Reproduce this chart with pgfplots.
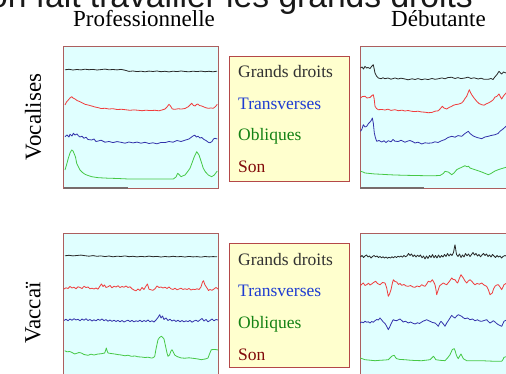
\documentclass[border=0pt]{standalone}
\usepackage{pgfplots}
\pgfplotsset{compat=1.18}
\usepackage{fontspec}
\setmainfont{Liberation Serif}
\newfontfamily\sansf{Liberation Sans}
\definecolor{cyanbg}{RGB}{224,255,255}
\definecolor{legbg}{RGB}{255,255,206}
\definecolor{bordc}{RGB}{172,95,95}
\definecolor{legbord}{RGB}{180,72,72}
\definecolor{tk}{RGB}{40,40,40}
\definecolor{tr}{RGB}{240,60,60}
\definecolor{tb}{RGB}{50,50,170}
\definecolor{tg}{RGB}{70,200,70}
\definecolor{scalec}{RGB}{120,108,108}
\definecolor{lk}{RGB}{50,50,50}
\definecolor{lb}{RGB}{30,60,210}
\definecolor{lg}{RGB}{20,130,20}
\definecolor{lr}{RGB}{130,10,10}
\pgfplotsset{panel/.style={scale only axis, width=155pt, height=142pt,
  xmin=0, xmax=155, ymin=0, ymax=142, y dir=reverse, ticks=none,
  axis background/.style={fill=cyanbg},
  axis line style={draw=bordc, line width=1pt},
  every axis plot/.append style={line width=0.8pt, mark=none, line join=round}}}
\begin{document}
\begin{tikzpicture}[x=1pt,y=1pt]
\useasboundingbox (0,0) rectangle (506,374);
\clip (0,0) rectangle (506,374);
\fill[white] (0,0) rectangle (506,374);
\node[anchor=base east, inner sep=0pt, text=black!90] at (473,366) {\sansf\fontsize{33.6}{40}\selectfont on fait travailler les grands droits};
\node[anchor=base, inner sep=0pt] at (144,347) {\fontsize{23}{27}\selectfont Professionnelle};
\node[anchor=base, inner sep=0pt] at (438.5,347) {\fontsize{23}{27}\selectfont Débutante};
\node[rotate=90, inner sep=0pt] at (33,257) {\fontsize{23}{27}\selectfont Vocalises};
\node[rotate=90, inner sep=0pt] at (33,61) {\fontsize{23}{27}\selectfont Vaccaï};
% legend boxes
\draw[fill=legbg, draw=legbord, line width=1pt] (229,192) rectangle (349,317);
\draw[fill=legbg, draw=legbord, line width=1pt] (229,6) rectangle (349,130);
\begin{scope}[every node/.style={anchor=base west, inner sep=0pt, font=\fontsize{17.5}{20}\selectfont}]
\node[text=lk] at (238,296) {Grands droits};
\node[text=lb] at (238,264) {Transverses};
\node[text=lg] at (238,233) {Obliques};
\node[text=lr] at (238,201) {Son};
\node[text=lk] at (238,108) {Grands droits};
\node[text=lb] at (238,77) {Transverses};
\node[text=lg] at (238,45) {Obliques};
\node[text=lr] at (238,13) {Son};
\end{scope}
% ---------- top left: Professionnelle / Vocalises
\begin{axis}[panel, at={(63pt,185pt)}, anchor=south west]
\addplot[tk] coordinates {(2,22.8)(6,22.3)(10,23.0)(14,22.5)(18,22.9)(22,22.2)(26,22.7)(30,22.4)(34,23.0)(38,22.6)(42,22.1)(46,22.8)(50,22.5)(54,22.9)(58,22.4)(62,23.2)(66,24.4)(70,24.0)(74,24.6)(78,24.2)(82,24.8)(86,24.1)(90,24.5)(94,24.0)(98,24.7)(102,24.3)(106,24.9)(110,24.2)(114,24.6)(118,24.0)(122,24.5)(126,24.8)(130,24.2)(134,24.6)(138,24.1)(142,24.7)(146,24.3)(150,24.8)(154,24.2)};
\addplot[tr] coordinates {(2,58)(3.5,55)(5.3,53)(7,51)(8.7,49.7)(10,51)(12,52)(14,53.5)(17,54.7)(19.5,56)(22,57.3)(25,58)(28.7,59)(32,60)(35.3,60.7)(38,61.5)(42,61.3)(46,62)(50,61.7)(54,62.5)(58.7,62.3)(63,62.8)(67,63.3)(71,62.9)(75.3,63.3)(79,63.7)(83,63.2)(87,63.6)(92,63.3)(96,63.8)(99,63.0)(102,62)(104,60)(106,57.3)(107.5,59)(109.3,62)(112,62.3)(115,61.8)(118.7,62)(122,61.5)(125.3,59.7)(127,58)(128.7,56.3)(130.5,58.5)(132,59)(133.5,57.5)(134.7,57)(136.5,58.5)(138.7,59)(141,60)(143,60.8)(145.3,61.3)(148,61)(150.3,61.3)(152.5,59.5)(154.3,57.3)};
\addplot[tb] coordinates {(2,89.7)(4,88)(6,90)(7,87.3)(9,89)(10.3,86.3)(12,88)(14,87)(15.3,88.7)(17,90)(19,89.2)(21,91.3)(23,90.2)(25,92.5)(28.7,93)(31,92)(33,94.5)(35.3,94)(38,93.2)(42,95.2)(46,94.5)(50,95.6)(54,94.6)(58,95.3)(62,96.2)(66,95)(70,95.9)(74,95.1)(78,96.2)(82,95.3)(86,96.5)(90,95.8)(94,96.8)(98,95.5)(102,95.6)(106,94.5)(110,95.2)(114,93.5)(118,94.5)(122,93.2)(126,92)(128,90.5)(130,89)(131.7,88.2)(133.5,90)(135,89.2)(137,91)(138.7,90.5)(141,92.5)(143,93.5)(145.3,95.3)(147,95.8)(149,94.5)(150.5,92)(152,91.3)(154.3,92)};
\addplot[tg] coordinates {(2,123)(3.5,118)(5.3,111.3)(7,106)(8.7,103)(10,104)(11,106.3)(12.5,110)(13.7,116.3)(15.5,120)(17,123)(19.5,125.5)(22,127.3)(25,128.5)(28.7,129.7)(35.3,130.7)(45,131.2)(55,131.5)(65.3,132)(80,132)(95,132)(110.3,132)(113,130)(114.7,126.3)(116.5,128)(118,129.7)(120,128.8)(122,128)(124,125.5)(127,121.3)(129,116)(131.3,109.7)(133.7,104.7)(136,108)(138,114)(140.3,121.3)(142.5,125)(145.3,128)(148.7,129.7)(151.3,128)(154.3,124)};
\addplot[scalec, line width=2pt] coordinates {(1,141)(65,141)};
\end{axis}
% ---------- top right: Débutante / Vocalises
\begin{axis}[panel, at={(360pt,185pt)}, anchor=south west]
\addplot[tk] coordinates {(0.5,21)(2,20)(3.5,22)(5,19.3)(6.5,21)(8,20.5)(10,21.5)(11.5,19.5)(13.3,17.7)(14.2,22)(15,26)(16.5,29)(18.3,31)(21,31.7)(23,30.8)(25,31.7)(28,31)(31,32.2)(35,31)(38,32)(41,31.2)(45,32)(48,32.8)(52,31.8)(55,32.5)(58,31.6)(61.7,32.7)(65,31.9)(68,32.6)(72,31.5)(75,32.3)(78.3,31.8)(82,30.9)(85,31.8)(88,30.5)(91.7,30.3)(95,31.5)(98,30.6)(101,31.6)(105,31)(108,30.2)(111,31.5)(114,30.8)(118.3,32)(121,31.2)(124,32.3)(128.3,32.3)(131,31.5)(133,32.5)(135,29.8)(137,27.5)(139,24.3)(140.5,26)(141.7,27)(143.5,25)(146,26)(149,24.5)(152,25.5)(155,24.8)};
\addplot[tr] coordinates {(0.5,51)(2.5,49.5)(5,49.3)(7,51)(10,50.5)(12,48.5)(13.3,47.7)(14.2,52)(15,59.3)(16.5,61.5)(18.3,62.7)(22,62.5)(25,63)(28,62.2)(31,63.4)(35,62.7)(38.3,63.7)(42,63.2)(45,64)(48,63.5)(51.7,64.3)(55,64.6)(58,64.2)(61.7,65)(65,65.2)(68,65.7)(71.7,65.5)(75,64.2)(78.3,63.8)(80,62)(82.3,59.3)(84,61)(86.7,62)(89,60.5)(91.7,59.3)(93.3,58.3)(96,57.5)(98,57.3)(101.7,56)(103.5,54)(105,51.5)(106.7,49.3)(108,46)(109.3,42.7)(110.5,45.5)(111.7,47.7)(114,51)(116.7,54.3)(119,56.5)(121.7,57.7)(124,58.2)(126,57)(128.3,56)(131,54.5)(133.3,52.7)(135,50)(136.7,49.5)(139,47)(140.5,50)(141.7,52)(143.5,49)(146,46)(149,47.5)(152,45.5)(155,46.5)};
\addplot[tb] coordinates {(0.5,84.3)(2,82)(3.3,77.7)(5,80)(6.7,79.3)(8.5,76.5)(10,75)(11.5,73)(12.3,71)(13.3,76)(14.3,86)(15.5,91)(16.7,94.3)(19,93.5)(21.7,95)(24,93.8)(26,95.5)(28.3,93.7)(31,94.8)(33,92.5)(35,94.2)(38.3,94.5)(41,93.3)(45,95.2)(48,94)(50,93.5)(53,94.8)(55,96)(58,95.2)(61.7,97)(65,95.8)(68,96.2)(71.7,96)(75,94.8)(78,95.5)(81.7,93.7)(85,92.5)(88,90.5)(91.7,89.3)(95,90.2)(98,88.6)(101.7,89.3)(105,86.5)(108.3,84.3)(110,86.5)(113.3,89)(117,90.5)(121.7,91.7)(125,90)(128.3,89.3)(131,88.5)(135,87.7)(138,86.5)(140,84.3)(143,82)(146,79.3)(149,80.5)(152,78.5)(155,79.5)};
\addplot[tg] coordinates {(0.5,124.3)(3,125)(5,126)(10,126.5)(15,127)(20,127.2)(28.3,127.7)(35,128)(45,128.3)(55,128.5)(65,128.7)(75,128.7)(80,128.5)(83.3,126.5)(85,124.3)(87,124.8)(88.3,125)(91.7,127.7)(94,126)(96.7,122.7)(99,121.5)(101.7,120.3)(105,118.7)(107,119.8)(108.5,119.2)(110,121)(115,122.7)(121.7,125)(128.3,127.7)(131,126.5)(133.3,125)(135,124)(138.3,122.7)(142,121.5)(146,120.3)(150,119.5)(155,119)};
\addplot[scalec, line width=2pt] coordinates {(0,141)(64,141)};
\end{axis}
% ---------- bottom left: Professionnelle / Vaccai
\begin{axis}[panel, at={(63pt,140pt)}, anchor=north west]
\addplot[tk] coordinates {(2,21.8)(6,21.3)(10,21.9)(14,21.5)(18,21.1)(22,21.7)(26,22.2)(30,21.6)(34,22.3)(38,21.9)(42,22.6)(46,22.0)(50,22.8)(54,22.2)(58,22.5)(62,21.9)(66,22.7)(70,22.3)(74,22.9)(78,22.4)(82,22.8)(86,22.1)(90,22.7)(94,22.4)(98,23.0)(102,22.5)(106,22.9)(110,22.3)(114,22.8)(118,22.5)(122,23.0)(126,22.4)(130,22.9)(134,22.6)(138,23.1)(142,22.5)(146,22.9)(150,22.6)(154,22.8)};
\addplot[tr] coordinates {(1,55)(3,53.8)(5,54.5)(7,52.5)(9,54)(11,53.2)(13,54.8)(15,52.8)(17,53.5)(19,54.5)(21,52.3)(23,53.5)(25,53)(27,54.8)(29,54.2)(31,55)(33,54)(35,55.2)(37,52)(38.5,50)(40,52.5)(41.5,51)(43,53.5)(45,52.8)(47,51.5)(49,53.8)(51,52.2)(53,53)(55,51.8)(57,53.5)(59,52.5)(61,53.2)(63,52)(65,53.5)(67,52.8)(69,54.8)(71,56)(73,56.8)(75,55)(77,56.5)(79,53.5)(81,55.5)(83,52)(84.5,50)(86,55.2)(88,55.8)(90,56.3)(92,54.8)(94,52)(96,53.5)(98,53)(100,54)(102,53.2)(104,54.5)(106,53)(108,54.8)(110,55.5)(112,54.2)(114,55.8)(116,55)(118,54.2)(120,55.5)(122,54.8)(124,55.5)(126,54.5)(128,56)(130,55.2)(132,55.6)(134,54.8)(136,55.5)(138,53)(139.5,48)(140.5,46.7)(142,51)(144,54)(145.5,56.5)(147,55.5)(149,56.3)(151,55)(153,53.5)(155,55)};
\addplot[tb] coordinates {(1,86.5)(3,85.2)(5,86.8)(7,85)(9,86.3)(11,84.7)(13,86)(15,85.3)(17,86.8)(19,85)(21,86.2)(23,84.8)(25,86.5)(27,85.5)(29,87)(31,85.8)(33,86.9)(35,85.2)(37,86.4)(39,84.9)(41,86.7)(43,85.6)(45,87.2)(47,86)(49,87.4)(51,86.2)(53,87.5)(55,86.4)(57,87.8)(59,86.5)(61,88)(63,87)(65,86.2)(67,87.6)(69,86.4)(71,87.9)(73,86.8)(75,87.5)(77,86.2)(79,87.8)(81,86.5)(83,87.5)(85,86)(87,87.8)(89,86.8)(91,88)(93,86)(95,83.5)(96.7,80.7)(98,84)(99.5,82)(101,85.5)(103,84)(105,86.5)(107,85.2)(109,87)(111,86)(113,87.5)(115,86.2)(117,87.8)(119,86.5)(121,87.9)(123,86.8)(125,87.6)(127,86.4)(129,88.2)(131,87)(133,86.2)(135,87.5)(137,86)(139,84.5)(141,87)(143,85.5)(145,87.8)(147,86.5)(149,85)(151,86.8)(153,85.5)(155,86)};
\addplot[tg] coordinates {(1.7,116.7)(4,117.8)(6.7,117.5)(9,118.5)(11.7,120)(14,119.2)(16,118.5)(18.3,119)(21,120.5)(25,121.3)(28,120.2)(31,121)(35,120)(38,119.8)(41.7,119)(42.7,116)(43.3,114)(44,116.5)(45,119)(48,119.5)(51.7,120)(55,120.6)(58.3,121)(62,121.8)(65,121.2)(68.3,122.3)(72,122)(75,122.8)(78.3,123)(82,123.5)(85,123.2)(88.3,124)(90,123.8)(91.7,122.5)(93,115)(95,105.7)(96.5,103.5)(98.3,102.3)(99.5,103.2)(101,105)(102.5,112)(104,119)(105,122.3)(106.5,121)(108,117)(109,115.7)(110.3,118)(111.7,121)(114,122.5)(118.3,124)(122,124.2)(126,123.8)(131.7,124.5)(135,125)(138.3,125.7)(141,125.2)(143,124.8)(145,124)(146.5,120)(148.3,115.7)(151,115.5)(154,115.7)(155,116)};
\end{axis}
% ---------- bottom right: Débutante / Vaccai
\begin{axis}[panel, at={(360pt,140pt)}, anchor=north west]
\addplot[tk] coordinates {(0.5,23)(2,21.5)(3.5,23.5)(5,22)(6.5,21)(8,23)(9.5,22)(11,24)(12.5,22.5)(14,21.5)(15.5,22.8)(17,22)(18.5,23.5)(20,22.5)(21.5,23.8)(23,22.8)(24.5,24)(26,23)(27.5,24.2)(29,23.2)(30.5,24)(32,22.8)(33.5,23.8)(35,22.5)(36.5,23.5)(38,22.2)(39.5,23)(41,22)(42.5,23.2)(44,21.5)(45.5,22.8)(47,21.8)(48.5,19.5)(50,21.5)(51.5,20)(53,22.5)(54.5,21)(56,23)(57.5,21.2)(59,22.5)(60.5,21)(62,23.8)(63.5,22)(65,25)(66.5,22)(68,24.5)(69.5,21.5)(71,23.5)(72.5,20.5)(74,23.8)(75.5,21.5)(77,24)(78.5,21)(80,23.5)(81.5,21.5)(83,23)(84.5,20.5)(86,22.5)(87.5,19.5)(89,22)(90.5,20)(92,21.5)(93.5,18.5)(94.5,13)(95,10.7)(95.5,14)(96.5,20.5)(98,22.5)(99.5,20)(101,23.5)(102.5,21)(104,23)(105.5,19.5)(107,21.8)(108.5,20)(110,22.5)(111.5,20.5)(113,18.5)(114.5,21)(116,19.5)(117.5,22)(119,20.5)(120.5,22.8)(122,21)(123.5,19.5)(125,21.5)(126.5,20)(128,22.5)(129.5,21)(131,23)(132.5,20.5)(134,22)(135.5,23.5)(137,21.5)(138.5,23)(140,22)(141.5,24)(143,22.5)(145,21.5)(147,22.5)(149,21)(151,22.3)(153,21.5)(155,22)};
\addplot[tr] coordinates {(0,52.3)(1.5,50.5)(3.3,49)(5,51.5)(6.7,50.7)(8.5,49.2)(10,51)(11.7,50)(13.5,48.5)(15.7,47.3)(17.5,49.5)(20,50.7)(22.5,48.5)(25,49)(26.7,54)(28.3,62.3)(29.5,60)(31,55.7)(32.2,50)(33.3,45.7)(35,47.5)(36.7,48)(38.5,50.5)(40,49.5)(41.7,51.3)(44,50.5)(46,52)(48.3,52.3)(50.5,51.5)(53,53)(55,53.3)(57,52)(59.5,52.8)(61.7,50.7)(63.5,51.8)(65,52.3)(66.7,50)(68.3,47.3)(70.5,48)(72.3,45.7)(73.7,48)(75,50.7)(76,56)(76.7,60.7)(77.5,58)(78.3,55.7)(79.5,52)(81,50.7)(83.3,49)(85,50)(86.7,50.7)(88.5,48.5)(90,46.5)(91.7,44)(93.3,45.5)(95,45.7)(96.5,48)(97.7,49)(99.3,44.5)(101,40.7)(102.2,42.5)(103.3,44)(105,47)(106.7,49)(108.3,47)(110,45.7)(112,47.5)(113.5,49.5)(115,50.7)(117,49.5)(119.5,50.2)(121.7,49)(124,51)(126.7,52.3)(128.5,56)(130,60.7)(132.3,59)(133.5,55)(135,52.3)(136.7,51)(138.3,50.7)(140,53)(141.7,55.7)(143,53)(144,50.7)(146,49.5)(148,51)(150,49.2)(152.5,50.3)(155,49)};
\addplot[tb] coordinates {(0,89)(1.7,88)(3.3,88.8)(5,87.3)(6.7,88.2)(8.3,87.8)(10,89)(11.7,87.5)(13.3,88.2)(15,86.7)(16.7,85.5)(18.3,86)(20,84)(21.7,86)(23.3,88)(25,89.5)(26.7,92.3)(28.3,95.7)(29.7,93)(31,90)(32.2,87.5)(33.3,85.7)(35,86.5)(36.7,86.7)(38.3,85.8)(40,85)(41.7,86.5)(43.3,88)(45.5,87.2)(48.3,89)(50.5,88)(53,89.3)(55,90)(57.5,88.8)(59.5,89.5)(61.7,88)(63.5,87)(65,86.5)(66.7,85.7)(68.3,86.5)(70,87.3)(72.5,88.5)(75,89)(76.7,90.5)(78.3,92.3)(79.5,89.5)(81,87.3)(83,89.5)(85,92.3)(86.7,89)(88.3,86.7)(90,84)(91.7,81.3)(93.3,83)(95,84)(96.7,82)(98.3,80.7)(100,81.5)(101.7,82.3)(103.3,83.8)(105,84.7)(107.5,84)(110,85.7)(112.5,85)(115,86.7)(117.5,85.8)(119.5,87)(121.7,87.3)(124,86.5)(126.7,85.7)(128.3,87.5)(130,89)(131.7,88)(133.3,86.7)(135,88)(136.7,89.5)(138.3,90.7)(140,91.5)(141.7,92.3)(143,89.5)(144,87.3)(146,86.2)(148,87.5)(150,86.8)(152.5,88.2)(155,88)};
\addplot[tg] coordinates {(0,124)(2.5,124.8)(5,125.7)(10,126.2)(15,126.7)(20,126.3)(25,126)(28.3,125.7)(30,124)(31.7,122.3)(33,121.6)(34.3,121.3)(35.5,123.5)(36.7,124.7)(40,125.5)(45,125.7)(50,126.2)(55,126.5)(61.7,126.7)(66,126.2)(70,125.7)(71.8,124)(73.3,122.3)(74.5,123.5)(75.7,125.7)(80,126.3)(85,126.7)(87.5,124)(90,120.7)(91.2,118)(92.3,115.7)(93.3,115)(94.3,114.7)(95.2,117)(96,120)(97.2,123)(98.3,124.7)(99.7,122)(101,120)(102.2,122.5)(103.3,124.7)(105,125.7)(106.7,126.7)(115,126.8)(121.7,126.7)(128,127)(135,127.3)(141.7,127.3)(143,125.5)(144,123.3)(147,122.5)(150,122)(155,121.5)};
\end{axis}
\end{tikzpicture}
\end{document}
